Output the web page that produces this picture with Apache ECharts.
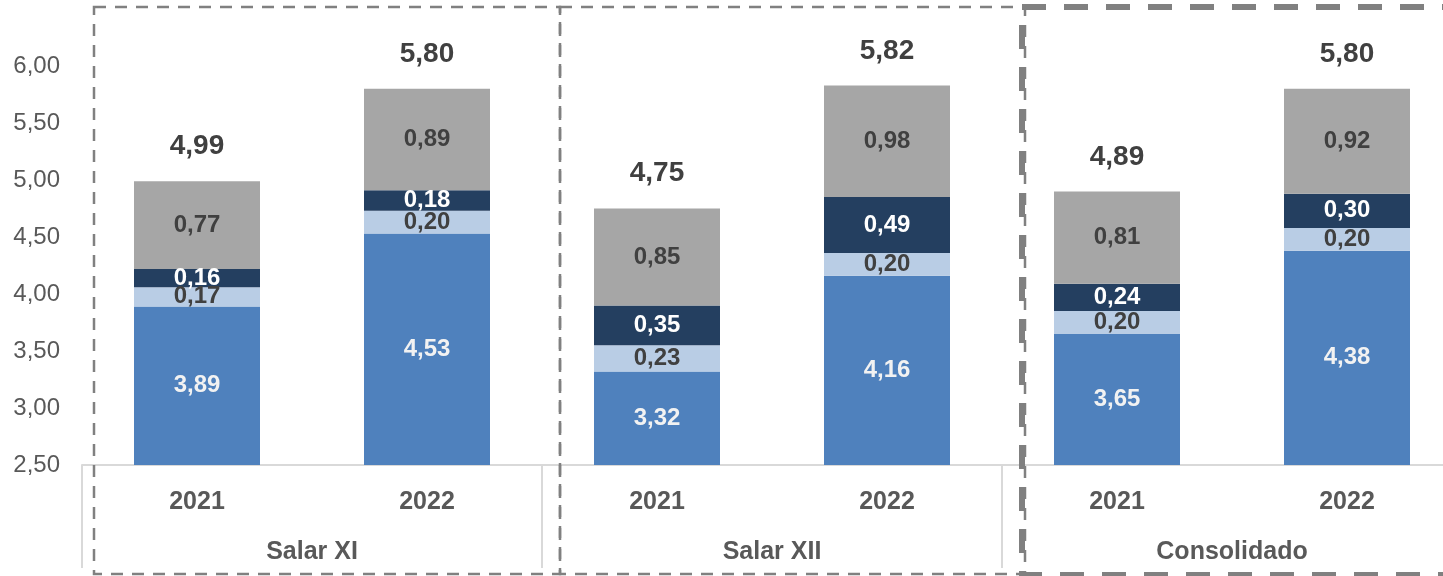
<!DOCTYPE html>
<html>
<head>
<meta charset="utf-8">
<script src="https://cdn.jsdelivr.net/npm/echarts@6/dist/echarts.min.js"></script>
<style>
html,body{margin:0;padding:0;background:#fff;overflow:hidden;width:1443px;height:576px;}
#chart{width:1480px;height:576px;}
</style>
</head>
<body>
<div id="chart"></div>
<script>
const years = ['2021','2022','2021','2022','2021','2022'];
const groups = ['Salar XI','Salar XII','Consolidado'];
const base = [3.89, 4.53, 3.32, 4.16, 3.65, 4.38];
const lightPart = [0.17, 0.20, 0.23, 0.20, 0.20, 0.20];
const darkPart = [0.16, 0.18, 0.35, 0.49, 0.24, 0.30];
const grayPart = [0.77, 0.89, 0.85, 0.98, 0.81, 0.92];
const totals = [4.99, 5.80, 4.75, 5.82, 4.89, 5.80];
const yTicks = ['2,50','3,00','3,50','4,00','4,50','5,00','5,50','6,00'];

const FONT = 'Liberation Sans, Arial, sans-serif';
const fmt = v => Number(v).toFixed(2).replace('.', ',');

function barSeries(name, data, color, labelColor) {
  return {
    name, type: 'bar', stack: 'total', data,
    barWidth: 126,
    itemStyle: { color },
    label: {
      show: true, position: 'inside', color: labelColor,
      fontFamily: FONT, fontWeight: 'bold', fontSize: 24,
      formatter: p => fmt(p.value)
    },
    emphasis: { disabled: true },
    animation: false
  };
}

const chart = echarts.init(document.getElementById('chart'));
chart.setOption({
  backgroundColor: '#ffffff',
  animation: false,
  grid: { left: 82, right: 18, top: 66, bottom: 111, containLabel: false },
  xAxis: [
    {
      type: 'category', data: years, position: 'bottom',
      axisLine: { show: true, lineStyle: { color: '#d9d9d9', width: 2 } },
      axisTick: { show: false },
      axisLabel: { margin: 25, color: '#595959', fontFamily: FONT, fontWeight: 'bold', fontSize: 25 }
    },
    {
      type: 'category', data: groups, position: 'bottom', gridIndex: 0,
      axisLine: { show: false },
      axisTick: { show: true, length: 103, lineStyle: { color: '#d9d9d9', width: 2 } },
      axisLabel: { margin: 75, color: '#595959', fontFamily: FONT, fontWeight: 'bold', fontSize: 25 }
    }
  ],
  yAxis: {
    type: 'value', min: 2.5, max: 6.0, interval: 0.5,
    axisLine: { show: false }, axisTick: { show: false },
    splitLine: { show: false },
    axisLabel: {
      margin: 22, color: '#595959', fontFamily: FONT, fontSize: 24,
      padding: [4, 0, 0, 0],
      formatter: (v) => yTicks[Math.round((v - 2.5) / 0.5)] || ''
    }
  },
  series: [
    barSeries('Base', base, '#4f81bd', '#f2f2f2'),
    barSeries('Light', lightPart, '#b9cde5', '#404040'),
    barSeries('Dark', darkPart, '#243f60', '#ffffff'),
    barSeries('Gray', grayPart, '#a6a6a6', '#404040'),
    {
      name: 'Total', type: 'scatter', data: totals, symbolSize: 0,
      itemStyle: { color: '#404040', opacity: 1 },
      label: {
        show: true, position: 'top', distance: 21, color: '#404040',
        fontFamily: FONT, fontWeight: 'bold', fontSize: 28, opacity: 1,
        formatter: p => fmt(p.value)
      },
      z: 10, emphasis: { disabled: true }
    }
  ],
  graphic: [
    { type: 'rect', shape: { x: 94, y: 7, width: 466, height: 567 },
      style: { fill: 'none', stroke: '#808080', lineWidth: 2.5, lineDash: [12, 9] }, z: 100 },
    { type: 'rect', shape: { x: 560, y: 7, width: 465, height: 567 },
      style: { fill: 'none', stroke: '#808080', lineWidth: 2.5, lineDash: [12, 9] }, z: 100 },
    { type: 'rect', shape: { x: 1022, y: 7, width: 440, height: 568 },
      style: { fill: 'none', stroke: '#808080', lineWidth: 6, lineDash: [24, 18] }, z: 101 }
  ]
});
</script>
</body>
</html>
